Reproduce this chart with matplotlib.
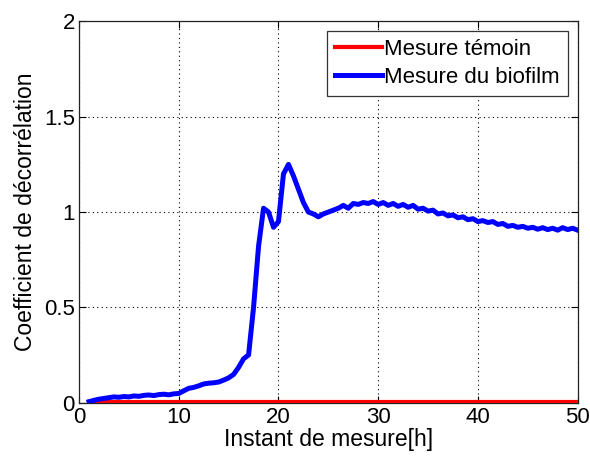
import numpy as np
import matplotlib
matplotlib.use("Agg")
import matplotlib.pyplot as plt

plt.rcParams['font.family'] = ['Liberation Sans', 'DejaVu Sans']

# Data
red_time = [1.0, 50.0]
red_values = [0.005, 0.005]

blue_time = np.arange(1.0, 50.01, 0.5)
blue_values = [
    0.005, 0.012, 0.018, 0.022, 0.026, 0.030, 0.028, 0.032, 0.030, 0.035,
    0.033, 0.038, 0.040, 0.037, 0.042, 0.044, 0.041, 0.046, 0.048, 0.062,
    0.075, 0.080, 0.088, 0.098, 0.102, 0.104, 0.108, 0.118, 0.130, 0.148,
    0.185, 0.230, 0.250, 0.500, 0.820, 1.020, 1.000, 0.920, 0.950, 1.200,
    1.250, 1.190, 1.120, 1.050, 1.000, 0.990, 0.975, 0.990, 1.000, 1.010,
    1.020, 1.035, 1.020, 1.045, 1.040, 1.050, 1.045, 1.055, 1.040, 1.050,
    1.035, 1.045, 1.030, 1.040, 1.025, 1.035, 1.015, 1.020, 1.005, 1.010,
    0.990, 0.995, 0.980, 0.985, 0.970, 0.975, 0.960, 0.965, 0.950, 0.955,
    0.945, 0.950, 0.935, 0.940, 0.925, 0.930, 0.920, 0.925, 0.915, 0.920,
    0.910, 0.918, 0.908, 0.915, 0.905, 0.918, 0.908, 0.915, 0.905,
]
labels = ["Mesure témoin", "Mesure du biofilm"]
xticks = [0, 10, 20, 30, 40, 50]
yticks = [0, 0.5, 1, 1.5, 2]
yticklabels = ["0", "0.5", "1", "1.5", "2"]

fig = plt.figure(figsize=(5.9, 4.57), dpi=100)
ax = fig.add_axes([0.134, 0.119, 0.845, 0.834])

ax.plot(red_time, red_values, color='#ff0000', lw=3.0, label=labels[0], zorder=3)
ax.plot(blue_time, blue_values, color='#0000ff', lw=3.6, label=labels[1], zorder=4)

ax.set_xlim(0, 50)
ax.set_ylim(0, 2)
ax.set_xticks(xticks)
ax.set_yticks(yticks)
ax.set_yticklabels(yticklabels)
ax.grid(True, linestyle=(0, (1, 3)), color='black', lw=0.8)
ax.tick_params(direction='in', length=5, width=0.8, top=True, right=True,
               labelsize=16, pad=3)
for s in ax.spines.values():
    s.set_linewidth(0.9)
    s.set_color('#222222')

ax.set_xlabel("Instant de mesure[h]", fontsize=16.5, labelpad=0)
ax.set_ylabel("Coefficient de décorrélation", fontsize=16.5, labelpad=5)

leg = ax.legend(loc='upper right', fontsize=16, handlelength=2.1,
                handletextpad=0.12, borderpad=0.35, labelspacing=0.3,
                borderaxespad=0.45, fancybox=False, framealpha=1,
                edgecolor='#333333')
leg.get_frame().set_linewidth(0.9)

fig.savefig("out.png", dpi=100)
